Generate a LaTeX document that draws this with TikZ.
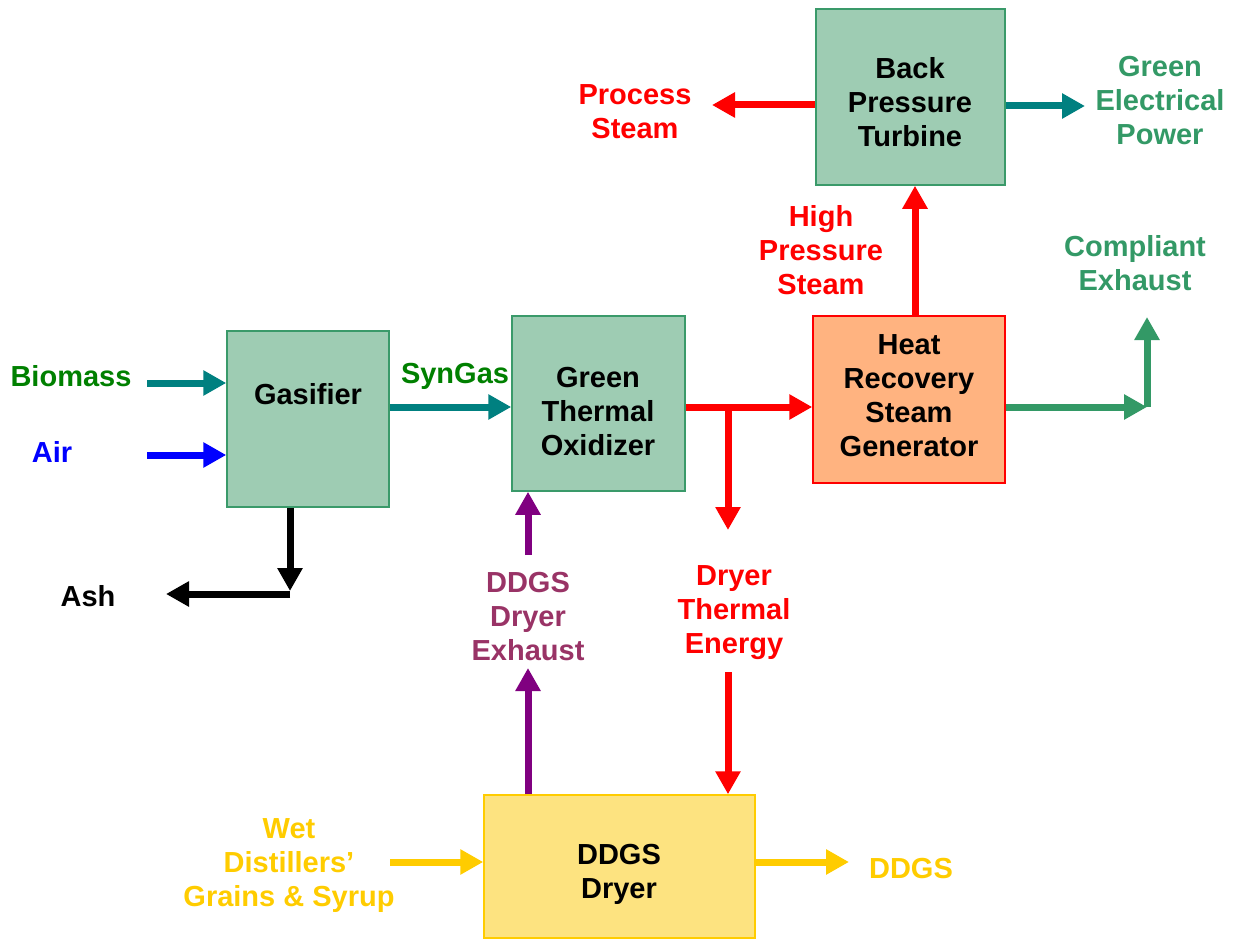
\documentclass[tikz,border=0pt]{standalone}
\usepackage{fontspec}
\setmainfont{Liberation Sans}
\usetikzlibrary{arrows.meta}

\definecolor{boxgreen}{RGB}{158,204,179}
\definecolor{boxedge}{RGB}{58,154,106}
\definecolor{peach}{RGB}{255,179,128}
\definecolor{dryfill}{RGB}{253,227,128}
\definecolor{gold}{RGB}{255,204,0}
\definecolor{tealflow}{RGB}{0,128,128}
\definecolor{purpleflow}{RGB}{128,0,128}
\definecolor{plum}{RGB}{153,51,102}
\definecolor{leaf}{RGB}{0,128,0}
\definecolor{sea}{RGB}{51,153,102}

\begin{document}
\begin{tikzpicture}[x=1pt,y=-1pt,
  box/.style={draw, line width=1.5pt, inner sep=0pt},
  lbl/.style={font=\fontsize{29}{34}\selectfont\bfseries, align=center, inner sep=0pt},
  flow/.style={line width=7pt, -{Triangle[length=23pt,width=24pt]}},
]
\useasboundingbox (0,0) rectangle (1235,939);

% process units
\node[box, fill=boxgreen, draw=boxedge, minimum width=162pt, minimum height=176pt] (gas) at (308,419) {};
\node[box, fill=boxgreen, draw=boxedge, minimum width=173pt, minimum height=175pt] (gto) at (598.5,403.5) {};
\node[box, fill=peach, draw=red, minimum width=192pt, minimum height=167pt] (hrsg) at (909,399.5) {};
\node[box, fill=boxgreen, draw=boxedge, minimum width=189pt, minimum height=176pt] (bpt) at (910.5,97) {};
\node[box, fill=dryfill, draw=gold, minimum width=271pt, minimum height=143pt] (dryer) at (619.5,866.5) {};

% unit names
\node[lbl] (tgas) at (308,394) {Gasifier};
\node[lbl] (tgto) at (598,412) {Green\\Thermal\\Oxidizer};
\node[lbl] (thrsg) at (909,396) {Heat\\Recovery\\Steam\\Generator};
\node[lbl] (tbpt) at (910,102) {Back\\Pressure\\Turbine};
\node[lbl] (tdryer) at (619,874) {DDGS\\Dryer};

% stream labels
\node[lbl, text=leaf] (lbio) at (71,376) {Biomass};
\node[lbl, text=blue] (lair) at (52,452) {Air};
\node[lbl, text=leaf] (lsyn) at (455,376) {SynGas};
\node[lbl, text=black] (lash) at (88,596) {Ash};
\node[lbl, text=plum] (lexh) at (528,617) {DDGS\\Dryer\\Exhaust};
\node[lbl, text=red] (ldte) at (734,613) {Dryer\\Thermal\\Energy};
\node[lbl, text=red] (lhp) at (821,250) {High\\Pressure\\Steam};
\node[lbl, text=red] (lps) at (635,112) {Process\\Steam};
\node[lbl, text=sea] (lpow) at (1160,101) {Green\\Electrical\\Power};
\node[lbl, text=sea] (lce) at (1135,263) {Compliant\\Exhaust};
\node[lbl, text=gold] (lwet) at (289,866) {Wet\\Distillers'\\Grains \& Syrup};
\node[lbl, text=gold] (lddgs) at (911,869) {DDGS};

% free ends and junctions of the streams
\coordinate (bio) at (147,383);
\coordinate (air) at (147,455);
\coordinate (syn) at (450,407);
\coordinate (hot) at (750,407);
\coordinate (tap) at (728,407);
\coordinate (tapEnd) at (728,530);
\coordinate (dte) at (728,672);
\coordinate (exhLow) at (528,668);
\coordinate (exhHigh) at (528,555);
\coordinate (hp) at (915,250);
\coordinate (ps) at (712,105);
\coordinate (pow) at (1085,106);
\coordinate (ce) at (1147,407);
\coordinate (ceTop) at (1147,317);
\coordinate (wet) at (390,862);
\coordinate (ddgs) at (849,862);
\coordinate (ashC) at (290,594);
\coordinate (ashTip) at (290,591);
\coordinate (ashEnd) at (166,594);

% streams
\draw[flow, tealflow] (bio) -- (bio -| gas.west);
\draw[flow, blue] (air) -- (air -| gas.west);
\draw[flow, tealflow] (syn -| gas.east) -- (syn -| gto.west);
\draw[flow, black] (ashTip |- gas.south) -- (ashTip);
\draw[flow, black] (ashC) -- (ashEnd);
\draw[flow, red] (hot -| gto.east) -- (hot -| hrsg.west);
\draw[flow, red] (tap) -- (tapEnd);
\draw[flow, red] (dte) -- (dte |- dryer.north);
\draw[flow, purpleflow] (exhLow |- dryer.north) -- (exhLow);
\draw[flow, purpleflow] (exhHigh) -- (exhHigh |- gto.south);
\draw[flow, red] (hp |- hrsg.north) -- (hp |- bpt.south);
\draw[flow, red] (ps -| bpt.west) -- (ps);
\draw[flow, tealflow] (pow -| bpt.east) -- (pow);
\draw[flow, sea] (ce -| hrsg.east) -- (ce);
\draw[flow, sea] (ce) -- (ceTop);
\draw[flow, gold] (wet) -- (wet -| dryer.west);
\draw[flow, gold] (ddgs -| dryer.east) -- (ddgs);
\end{tikzpicture}
\end{document}
